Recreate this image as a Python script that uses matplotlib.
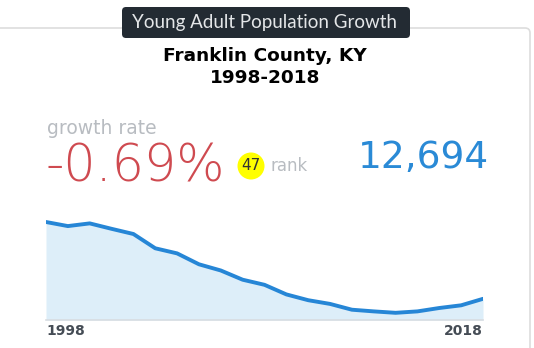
import matplotlib.pyplot as plt
from matplotlib.patches import FancyBboxPatch, Circle

years = list(range(1998, 2019))
population = [14576, 14476, 14542, 14409, 14282, 13932, 13807, 13540, 13388, 13162,
              13037, 12802, 12660, 12569, 12427, 12386, 12351, 12386, 12469, 12535, 12694]
tick_years = [1998, 2018]
tooltip = "Young Adult Population Growth"
county = "Franklin County, KY\n1998-2018"
growth_rate = "-0.69%"
rank = "47"
latest = "12,694"

W, H = 534, 348
fig = plt.figure(figsize=(W / 100, H / 100), dpi=100)

# background layer in pixel coordinates (y pointing down)
bg = fig.add_axes([0, 0, 1, 1])
bg.set_xlim(0, W)
bg.set_ylim(H, 0)
bg.axis('off')

card = FancyBboxPatch((-10, 28), 540, 340, boxstyle='round,pad=0,rounding_size=5',
                      facecolor='white', edgecolor='#dddddd', linewidth=1.2)
bg.add_patch(card)
tip = FancyBboxPatch((122, 7), 288, 31, boxstyle='round,pad=0,rounding_size=4',
                     facecolor='#232b33', edgecolor='none')
bg.add_patch(tip)
bg.text(265, 22.5, tooltip, color='#e4e6e8', fontsize=13.5, family='Lato',
        ha='center', va='center')

bg.text(265, 67, county, fontsize=13.3, fontweight='bold', color='black',
        ha='center', va='center', linespacing=1.3)

bg.text(47, 128, "growth rate", fontsize=13.5, color='#b8bcc1', ha='left', va='center')
bg.text(46, 167, growth_rate, fontsize=36.5, color='#cf4a50', fontweight='light',
        ha='left', va='center')
bg.add_patch(Circle((251, 166), 13.5, facecolor='#ffff00', edgecolor='none'))
bg.text(251, 166, rank, fontsize=11, color='#333333', ha='center', va='center')
bg.text(270, 166, "rank", fontsize=12, color='#b8bcc1', ha='left', va='center')
bg.text(489, 158, latest, fontsize=27, color='#2a8ad6', ha='right', va='center')

# area chart
ymin = 12175
ax = fig.add_axes([46 / W, (H - 320) / H, (483 - 46) / W, 110 / H])
ax.patch.set_alpha(0)
ax.fill_between(years, population, ymin, color='#ddeef9', linewidth=0)
ax.plot(years, population, color='#2686d6', linewidth=2.8, solid_capstyle='round')
ax.set_xlim(1998, 2018)
ax.set_ylim(ymin, ymin + 110 * 24.5)
for s in ['top', 'right', 'left']:
    ax.spines[s].set_visible(False)
ax.spines['bottom'].set_color('#d8dde2')
ax.spines['bottom'].set_linewidth(1.2)
ax.set_yticks([])
ax.set_xticks(tick_years)
ax.set_xticklabels([str(y) for y in tick_years], fontsize=10, fontweight='bold', color='#454c55')
labels = ax.get_xticklabels()
labels[0].set_ha('left')
labels[-1].set_ha('right')
ax.tick_params(axis='x', length=0, pad=3)

fig.savefig('out.png', dpi=100)
